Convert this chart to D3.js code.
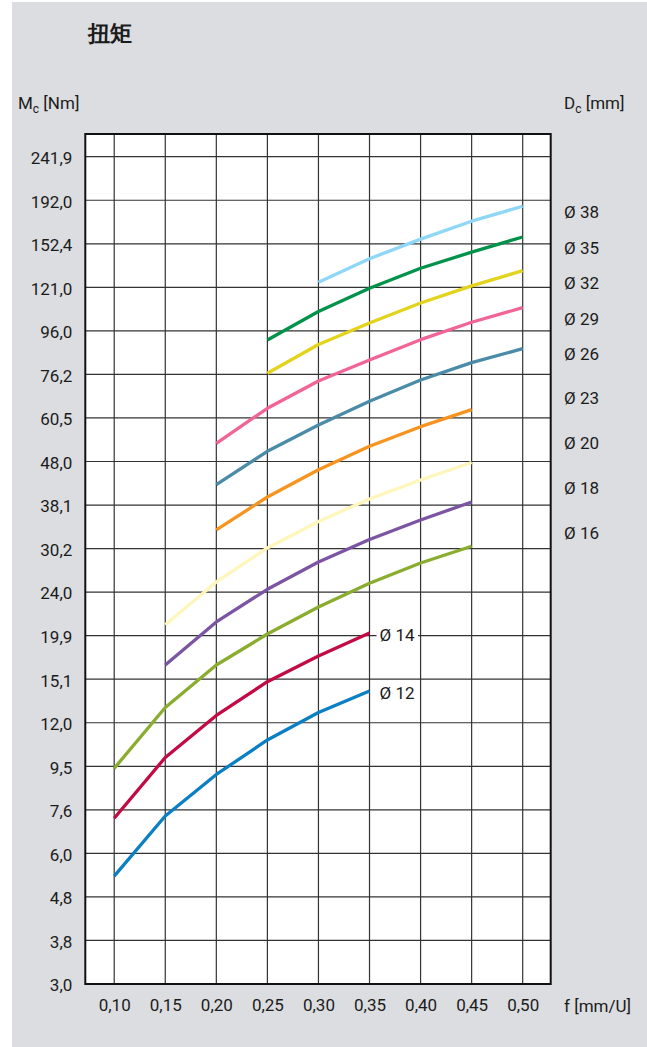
<!DOCTYPE html>
<html><head><meta charset="utf-8">
<script src="https://cdn.jsdelivr.net/npm/d3@7"></script>
<style>
body{margin:0;background:#fff}
svg{display:block}
text{font-family:Roboto,"Noto Sans",sans-serif;fill:#1b1b1b}
</style>
</head><body>
<svg id="chart" width="647" height="1047"></svg>
<script>
// ---------- data ----------
const feedTicks = [0.10, 0.15, 0.20, 0.25, 0.30, 0.35, 0.40, 0.45, 0.50];
const feedLabels = ["0,10", "0,15", "0,20", "0,25", "0,30", "0,35", "0,40", "0,45", "0,50"];
const torqueTicks = [3.0, 3.8, 4.8, 6.0, 7.6, 9.5, 12.0, 15.1, 19.9, 24.0, 30.2, 38.1, 48.0, 60.5, 76.2, 96.0, 121.0, 152.4, 192.0, 241.9];
const torqueLabels = ["3,0", "3,8", "4,8", "6,0", "7,6", "9,5", "12,0", "15,1", "19,9", "24,0", "30,2", "38,1", "48,0", "60,5", "76,2", "96,0", "121,0", "152,4", "192,0", "241,9"];

const diameters = ["Ø 12", "Ø 14", "Ø 16", "Ø 18", "Ø 20", "Ø 23", "Ø 26", "Ø 29", "Ø 32", "Ø 35", "Ø 38"];
const seriesStart = [0.10, 0.10, 0.10, 0.15, 0.15, 0.20, 0.20, 0.20, 0.25, 0.25, 0.30];
const d12 = [5.34, 7.35, 9.11, 10.94, 12.67, 14.19];
const d14 = [7.26, 9.96, 12.47, 14.90, 17.49, 20.13];
const d16 = [9.40, 13.01, 16.52, 20.04, 22.51, 25.15, 27.99, 30.57];
const d18 = [16.52, 21.11, 24.36, 28.14, 31.70, 35.18, 38.72];
const d20 = [20.86, 25.32, 30.30, 34.90, 39.35, 43.51, 47.75];
const d23 = [33.35, 39.76, 45.96, 52.04, 57.76, 63.21];
const d26 = [42.44, 50.68, 58.28, 66.09, 73.99, 81.09, 87.35];
const d29 = [52.88, 63.68, 73.60, 82.27, 91.62, 100.5, 108.6];
const d32 = [76.66, 89.31, 100.1, 111.3, 121.9, 132.2];
const d35 = [91.47, 106.4, 120.4, 133.9, 145.8, 158.0];
const d38 = [124.3, 140.8, 156.2, 171.8, 186.0];
const seriesValues = [d12, d14, d16, d18, d20, d23, d26, d29, d32, d35, d38];
const colors = ["#0a7fc4", "#c20a45", "#8aad2f", "#7b55a4", "#fff6bb", "#f7941f", "#4a8ba8", "#f06596", "#e3d31c", "#00924a", "#8fd7f7"];
// right-hand legend anchors (in Nm on the axis); null = label at end of line
const legendAt = [null, null, 32.88, 41.77, 52.88, 67.15, 84.9, 102.1, 123.6, 148.8, 180.7];

// ---------- layout ----------
const svg = d3.select("#chart");
const W = 647, H = 1047;
const plot = {left: 85.3, right: 550.7, top: 134, bottom: 984};
const yTopTick = 156.7;

svg.append("rect").attr("width", W).attr("height", H).attr("fill", "#fff");
svg.append("rect").attr("x", 12).attr("y", 2).attr("width", W - 12).attr("height", H - 2).attr("fill", "#dcdde0");
svg.append("rect").attr("x", plot.left).attr("y", plot.top)
  .attr("width", plot.right - plot.left).attr("height", plot.bottom - plot.top).attr("fill", "#fff");

const x = d3.scaleLinear().domain([0.10, 0.50]).range([114.2, 522.7]);
const idx = d3.scaleLinear().domain([0, torqueTicks.length - 1]).range([plot.bottom, yTopTick]);
const y = d3.scaleLog().domain(torqueTicks).range(torqueTicks.map((t, i) => idx(i)));

// grid
const grid = svg.append("g").attr("stroke", "#333").attr("stroke-width", 1.2);
grid.selectAll("line.h").data(torqueTicks).join("line")
  .attr("x1", plot.left).attr("x2", plot.right)
  .attr("y1", d => y(d)).attr("y2", d => y(d));
grid.selectAll("line.v").data(feedTicks).join("line")
  .attr("y1", plot.top).attr("y2", plot.bottom)
  .attr("x1", d => x(d)).attr("x2", d => x(d));

// frame
svg.append("rect").attr("x", plot.left).attr("y", plot.top)
  .attr("width", plot.right - plot.left).attr("height", plot.bottom - plot.top)
  .attr("fill", "none").attr("stroke", "#111").attr("stroke-width", 2);

// y axis labels
const yAxis = d3.axisLeft(y).tickValues(torqueTicks).tickFormat((d, i) => torqueLabels[i]).tickSize(0).tickPadding(13);
const gy = svg.append("g").attr("transform", `translate(${plot.left},0)`).call(yAxis);
gy.select(".domain").remove();
gy.selectAll("text").attr("font-size", 17).attr("font-family", "Roboto").attr("fill", "#1b1b1b").attr("dy", "0.40em");

// x axis labels
const xAxis = d3.axisBottom(x).tickValues(feedTicks).tickFormat((d, i) => feedLabels[i]).tickSize(0).tickPadding(15);
const gx = svg.append("g").attr("transform", `translate(0,${plot.bottom})`).call(xAxis);
gx.select(".domain").remove();
gx.selectAll("text").attr("font-size", 17).attr("font-family", "Roboto").attr("fill", "#1b1b1b");

// series
const line = d3.line().x(d => x(d.f)).y(d => y(d.v));
seriesValues.forEach((vals, s) => {
  const startI = feedTicks.findIndex(f => Math.abs(f - seriesStart[s]) < 1e-9);
  const pts = vals.map((v, i) => ({f: feedTicks[startI + i], v}));
  svg.append("path").datum(pts).attr("d", line)
    .attr("fill", "none").attr("stroke", colors[s]).attr("stroke-width", 3.3)
    .attr("stroke-linejoin", "round").attr("stroke-linecap", "butt");
  if (legendAt[s] === null) {
    const last = pts[pts.length - 1];
    const lx = x(last.f) + 10, ly = y(last.v) + 2;
    const t = svg.append("text").attr("x", lx).attr("y", ly).attr("dy", "0.36em")
      .attr("font-size", 17).text(diameters[s]);
    const bb = t.node().getBBox();
    svg.insert("rect", () => t.node()).attr("x", bb.x - 3).attr("y", bb.y)
      .attr("width", bb.width + 6).attr("height", bb.height).attr("fill", "#fff");
  } else {
    svg.append("text").attr("x", 564).attr("y", y(legendAt[s])).attr("dy", "0.36em")
      .attr("font-size", 17).text(diameters[s]);
  }
});

// titles
svg.append("text").attr("x", 88).attr("y", 41).attr("font-family", "'Noto Sans CJK SC'")
  .attr("font-size", 22).attr("font-weight", 700).text("扭矩");

const mt = svg.append("text").attr("x", 18).attr("y", 109).attr("font-size", 17);
mt.append("tspan").text("M");
mt.append("tspan").attr("font-size", 12).attr("dy", 4).text("c");
mt.append("tspan").attr("dy", -4).text(" [Nm]");

const dt = svg.append("text").attr("x", 564).attr("y", 109).attr("font-size", 17);
dt.append("tspan").text("D");
dt.append("tspan").attr("font-size", 12).attr("dy", 4).text("c");
dt.append("tspan").attr("dy", -4).text(" [mm]");

svg.append("text").attr("x", 564).attr("y", plot.bottom + 27.5).attr("font-size", 17).text("f [mm/U]");
</script>
</body></html>
